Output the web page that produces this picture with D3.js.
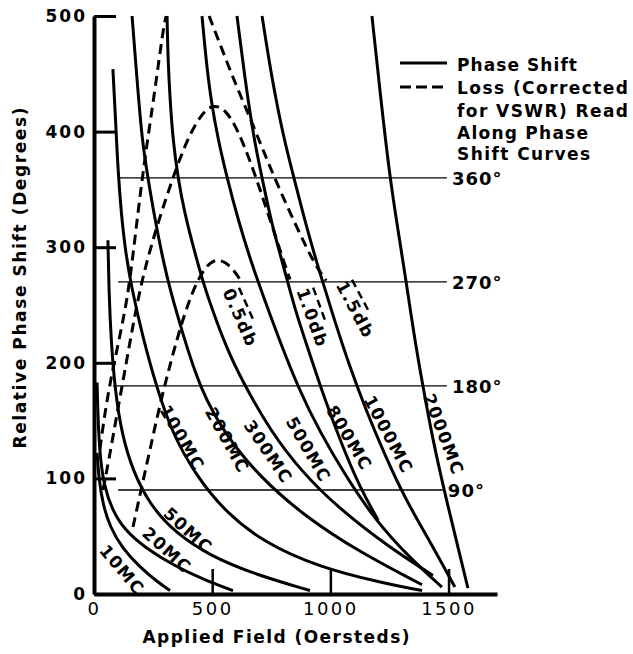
<!DOCTYPE html>
<html>
<head>
<meta charset="utf-8">
<script src="https://cdn.jsdelivr.net/npm/d3@7"></script>
<style>
  body { margin: 0; background: #fff; }
  text { font-family: "DejaVu Sans", sans-serif; fill: #000; }
</style>
</head>
<body>
<svg id="chart" width="633" height="654"></svg>
<script>
// Applied field (oersteds) vs relative phase shift (degrees), one curve per frequency
const frequencies = ["10MC", "20MC", "50MC", "100MC", "200MC", "300MC", "500MC", "800MC", "1000MC", "2000MC"];

const phase10MC = [[13,122],[21,99],[38,77],[68,58],[118,40],[195,23],[271,10],[322,3]];
const phase20MC = [[13,183],[17,151],[25,120],[42,94],[76,73],[131,55],[216,40],[343,24],[470,12],[588,3]];
const phase50MC = [[59,306],[63,263],[72,220],[89,176],[118,138],[165,106],[237,77],[343,53],[491,33],[681,17],[914,3]];
const phase100MC = [[80,454],[89,419],[97,384],[110,341],[131,298],[161,263],[203,225],[267,177],[334,138],[427,104],[554,71],[723,44],[956,23],[1210,10],[1388,3]];
const phase200MC = [[161,500],[182,445],[203,393],[228,360],[258,324],[292,289],[322,263],[377,224],[448,178],[554,138],[702,101],[893,67],[1125,36],[1388,8]];
const phase300MC = [[309,500],[313,462],[322,427],[334,393],[355,360],[385,328],[423,298],[465,267],[516,237],[575,206],[652,175],[745,142],[872,107],[1041,73],[1252,40],[1434,16]];
const phase500MC = [[457,500],[474,462],[495,427],[525,393],[563,360],[609,324],[668,285],[728,251],[791,216],[867,177],[956,140],[1062,103],[1189,64],[1337,31],[1472,6]];
const phase800MC = [[605,500],[639,445],[677,393],[711,360],[753,319],[800,285],[850,246],[914,207],[977,168],[1049,129],[1125,92],[1202,64]];
const phase1000MC = [[711,500],[753,445],[804,393],[846,360],[897,319],[952,280],[1011,241],[1079,198],[1151,159],[1231,120],[1320,81],[1417,47],[1527,6]];
const phase2000MC = [[1176,500],[1214,427],[1252,360],[1286,315],[1320,271],[1354,224],[1392,179],[1434,133],[1481,90],[1532,47],[1582,5]];

// Loss contours (corrected for VSWR)
const lossLabels = ["0.5db", "1.0db", "1.5db"];
const loss05 = [[165,58],[199,90],[237,125],[279,164],[326,202],[377,239],[427,267],[474,284],[516,290],[558,287],[592,280],[618,272]];
const loss10 = [[38,90],[63,116],[93,151],[127,189],[165,233],[207,276],[267,319],[330,358],[393,393],[453,415],[503,424],[558,419],[609,401],[660,375],[711,345],[762,313],[804,287],[829,272]];
const loss15Rising = [[25,125],[42,151],[68,183],[106,220],[140,254],[165,293],[190,337],[220,384],[258,436],[292,488],[305,500]];
const loss15Falling = [[487,500],[542,471],[601,440],[660,412],[719,382],[787,349],[863,315],[931,286],[982,271]];

// Reference phase levels
const refLevels = [360, 270, 180, 90];
const refFrom = [110, 102, 80, 102];
const refTo = [1493, 1493, 1493, 1476];

// Axis ticks
const xTicks = [0, 500, 1000, 1500];
const yTicks = [0, 100, 200, 300, 400, 500];

const legendItems = ["Phase Shift", "Loss (Corrected", "for VSWR) Read", "Along Phase", "Shift Curves"];

const svg = d3.select("#chart");
const x = d3.scaleLinear().domain([0, 1705]).range([94, 497]);
const y = d3.scaleLinear().domain([0, 500]).range([594, 16]);

const line = d3.line()
  .x(d => x(d[0]))
  .y(d => y(d[1]))
  .curve(d3.curveBasis);

// reference level lines
svg.append("g").selectAll("line").data(refLevels).join("line")
  .attr("x1", (d, i) => x(refFrom[i]))
  .attr("x2", (d, i) => x(refTo[i]))
  .attr("y1", d => y(d)).attr("y2", d => y(d))
  .attr("stroke", "#000").attr("stroke-width", 1.4);

svg.append("g").selectAll("text").data(refLevels).join("text")
  .attr("x", (d, i) => x(refTo[i]) + 5)
  .attr("y", d => y(d) + 7)
  .style("font-size", "18px").style("font-weight", "bold")
  .style("letter-spacing", "1px")
  .text(d => d + "°");

// phase shift curves
const phaseSeries = [phase10MC, phase20MC, phase50MC, phase100MC, phase200MC, phase300MC, phase500MC, phase800MC, phase1000MC, phase2000MC];
svg.append("g").selectAll("path").data(phaseSeries).join("path")
  .attr("d", line)
  .attr("fill", "none").attr("stroke", "#000")
  .attr("stroke-width", 3).attr("stroke-linecap", "butt");

// loss contours
const lossSeries = [loss05, loss10, loss15Rising, loss15Falling];
svg.append("g").selectAll("path").data(lossSeries).join("path")
  .attr("d", line)
  .attr("fill", "none").attr("stroke", "#000")
  .attr("stroke-width", 3).attr("stroke-dasharray", "10,6");

// frequency labels set along the curves
const freqSpots = [[119,21,50],[309,38,42],[398,55,42],[373,135,60],[564,133,61],[737,123,56],[907,125,60],[1080,135,59],[1246,138,62],[1479,138,69]];
svg.append("g").selectAll("text").data(frequencies).join("text")
  .attr("transform", (d, i) => `translate(${x(freqSpots[i][0])},${y(freqSpots[i][1])}) rotate(${freqSpots[i][2]})`)
  .attr("text-anchor", "middle").attr("dy", "0.35em")
  .style("font-size", "17px").style("font-weight", "bold")
  .style("letter-spacing", "1.5px")
  .text(d => d);

// loss labels with a dashed mark alongside
const lossSpots = [[619,239,66],[924,239,70],[1106,246,62]];
const lossG = svg.append("g").selectAll("g").data(lossLabels).join("g")
  .attr("transform", (d, i) => `translate(${x(lossSpots[i][0])},${y(lossSpots[i][1])}) rotate(${lossSpots[i][2]})`);
lossG.append("text")
  .attr("text-anchor", "middle").attr("dy", "0.35em")
  .style("font-size", "17px").style("font-weight", "bold")
  .style("letter-spacing", "1.5px")
  .text(d => d);
lossG.append("line")
  .attr("x1", -28).attr("x2", 10).attr("y1", -11).attr("y2", -11)
  .attr("stroke", "#000").attr("stroke-width", 2.5).attr("stroke-dasharray", "8,5");

// axes
const yAxis = svg.append("g")
  .attr("transform", `translate(${x(0)},0)`)
  .call(d3.axisLeft(y).tickValues(yTicks).tickFormat(d3.format("d"))
    .tickSizeInner(-22).tickSizeOuter(0).tickPadding(7));
yAxis.select(".domain").attr("stroke-width", 4);
yAxis.selectAll(".tick line").attr("stroke-width", 3);
yAxis.selectAll(".tick text")
  .style("font-size", "17px").style("font-weight", "bold").style("letter-spacing", "2px");

const xAxis = svg.append("g")
  .attr("transform", `translate(0,${y(0)})`)
  .call(d3.axisBottom(x).tickValues(xTicks).tickFormat(d3.format("d"))
    .tickSizeInner(-25).tickSizeOuter(0).tickPadding(8));
xAxis.select(".domain").attr("stroke-width", 4);
xAxis.selectAll(".tick line").attr("stroke-width", 2.5);
xAxis.selectAll(".tick text")
  .style("font-size", "18px").style("letter-spacing", "2.5px");

// axis titles
svg.append("text")
  .attr("x", 276).attr("y", 643)
  .attr("text-anchor", "middle")
  .attr("textLength", 267).attr("lengthAdjust", "spacing")
  .style("font-size", "17px").style("font-weight", "bold")
  .text("Applied Field (Oersteds)");

svg.append("text")
  .attr("transform", "translate(26,278) rotate(-90)")
  .attr("text-anchor", "middle")
  .attr("textLength", 341).attr("lengthAdjust", "spacing")
  .style("font-size", "17px").style("font-weight", "bold")
  .text("Relative Phase Shift (Degrees)");

// legend
const legend = svg.append("g");
legend.append("line").attr("x1", 400).attr("x2", 447).attr("y1", 63).attr("y2", 63)
  .attr("stroke", "#000").attr("stroke-width", 3);
legend.append("line").attr("x1", 400).attr("x2", 447).attr("y1", 87).attr("y2", 87)
  .attr("stroke", "#000").attr("stroke-width", 3).attr("stroke-dasharray", "11,5");
const legendWidths = [120, 171, 171, 131, 133];
const legendBase = [71, 94, 117, 139, 160];
legend.selectAll("text").data(legendItems).join("text")
  .attr("x", 457).attr("y", (d, i) => legendBase[i])
  .attr("textLength", (d, i) => legendWidths[i]).attr("lengthAdjust", "spacing")
  .style("font-size", "17px").style("font-weight", "bold")
  .text(d => d);
</script>
</body>
</html>
